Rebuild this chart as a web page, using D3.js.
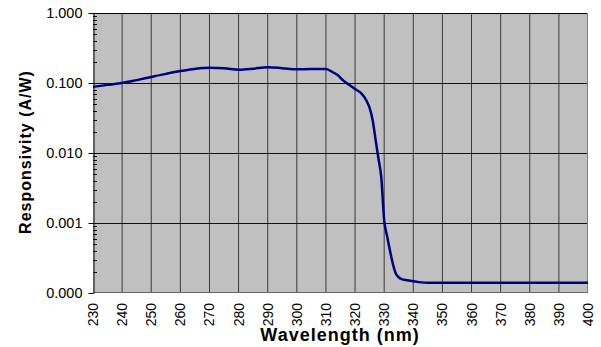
<!DOCTYPE html>
<html>
<head>
<meta charset="utf-8">
<script src="https://cdn.jsdelivr.net/npm/d3@7"></script>
<style>
  body { margin: 0; background: #fff; }
</style>
</head>
<body>
<div id="chart"></div>
<script>
// wavelength (nm) and responsivity (A/W)
const wavelength = [230, 235, 240, 245, 250, 255, 260, 265, 270, 275, 280, 285, 290, 295, 300, 305, 310,
  312, 314, 316, 318, 320, 322, 324, 325, 326, 327, 328, 329, 330, 331, 332, 333, 334, 335, 336, 338,
  340, 342, 345, 350, 360, 370, 380, 390, 400];
const responsivity = [0.088, 0.094, 0.100, 0.110, 0.122, 0.135, 0.148, 0.159, 0.165, 0.163, 0.155, 0.160,
  0.168, 0.163, 0.157, 0.158, 0.158,
  0.145, 0.130, 0.108, 0.094, 0.082, 0.072, 0.055, 0.044, 0.030, 0.016, 0.0085, 0.0045, 0.0011, 0.00065,
  0.00040, 0.00026, 0.00019, 0.000168, 0.000158, 0.000152,
  0.000147, 0.000143, 0.00014, 0.00014, 0.00014, 0.00014, 0.00014, 0.00014, 0.00014];
const xTicks = d3.range(230, 401, 10);
const yTicks = [0.0001, 0.001, 0.01, 0.1, 1];

const FONT = "'Liberation Sans', Arial, sans-serif";
const WIDTH = 601;
const HEIGHT = 347;
const LEFT = 93, RIGHT = 588, TOP = 13, BOTTOM = 293;

const svg = d3.select("#chart").append("svg")
  .attr("width", WIDTH)
  .attr("height", HEIGHT)
  .attr("font-family", FONT);

const x = d3.scaleLinear().domain([230, 400]).range([LEFT, RIGHT]);
const y = d3.scaleLog().domain([0.0001, 1]).range([BOTTOM, TOP]);

// plot area
svg.append("rect")
  .attr("x", LEFT).attr("y", TOP)
  .attr("width", RIGHT - LEFT).attr("height", BOTTOM - TOP)
  .attr("fill", "#c0c0c0");

// vertical grid
svg.append("g").selectAll("line")
  .data(xTicks.slice(1, -1))
  .join("line")
  .attr("x1", d => x(d)).attr("x2", d => x(d))
  .attr("y1", TOP).attr("y2", BOTTOM)
  .attr("stroke", "#3a3a3a").attr("stroke-width", 1);

// horizontal grid
svg.append("g").selectAll("line")
  .data(yTicks.slice(1, -1))
  .join("line")
  .attr("x1", LEFT).attr("x2", RIGHT)
  .attr("y1", d => Math.round(y(d)) + 0.5).attr("y2", d => Math.round(y(d)) + 0.5)
  .attr("stroke", "#111").attr("stroke-width", 1);

// frame
svg.append("line").attr("x1", LEFT).attr("x2", RIGHT).attr("y1", TOP + 0.5).attr("y2", TOP + 0.5)
  .attr("stroke", "#000");
svg.append("line").attr("x1", RIGHT - 0.5).attr("x2", RIGHT - 0.5).attr("y1", TOP).attr("y2", BOTTOM)
  .attr("stroke", "#808080");
svg.append("line").attr("x1", LEFT).attr("x2", RIGHT).attr("y1", BOTTOM - 0.5).attr("y2", BOTTOM - 0.5)
  .attr("stroke", "#666");

// y axis with log minor ticks inside
const yAxis = d3.axisLeft(y)
  .tickValues(yTicks)
  .tickFormat(d => d3.format(".3f")(d))
  .tickSize(5)
  .tickSizeOuter(0)
  .tickPadding(6);
const gy = svg.append("g")
  .attr("transform", `translate(${LEFT + 0.5},0)`)
  .call(yAxis)
  .attr("font-family", FONT)
  .attr("font-size", 14.5);
gy.select(".domain").attr("stroke", "#000");
gy.selectAll("text").attr("fill", "#000");

const minor = [];
[0.0001, 0.001, 0.01, 0.1].forEach(b => d3.range(2, 10).forEach(k => minor.push(b * k)));
svg.append("g").selectAll("line")
  .data(minor)
  .join("line")
  .attr("x1", LEFT).attr("x2", LEFT + 4)
  .attr("y1", d => Math.round(y(d)) + 0.5).attr("y2", d => Math.round(y(d)) + 0.5)
  .attr("stroke", "#000");

// x tick labels, rotated
svg.append("g").selectAll("text")
  .data(xTicks)
  .join("text")
  .attr("transform", d => `translate(${x(d) + 5},${BOTTOM + 10}) rotate(-90)`)
  .attr("text-anchor", "end")
  .attr("font-size", 14)
  .text(d => d);

// curve
const line = d3.line()
  .x(d => x(d[0]))
  .y(d => y(d[1]))
  .curve(d3.curveMonotoneX);
svg.append("path")
  .datum(wavelength.map((w, i) => [w, responsivity[i]]))
  .attr("d", line)
  .attr("fill", "none")
  .attr("stroke", "#000080")
  .attr("stroke-width", 2.5);

// axis titles
svg.append("text")
  .attr("x", 340).attr("y", 341)
  .attr("text-anchor", "middle")
  .attr("font-size", 18).attr("font-weight", "bold")
  .attr("letter-spacing", 1)
  .text("Wavelength (nm)");
svg.append("text")
  .attr("transform", "translate(31,152) rotate(-90)")
  .attr("text-anchor", "middle")
  .attr("font-size", 16).attr("font-weight", "bold")
  .attr("letter-spacing", 1)
  .text("Responsivity (A/W)");
</script>
</body>
</html>
